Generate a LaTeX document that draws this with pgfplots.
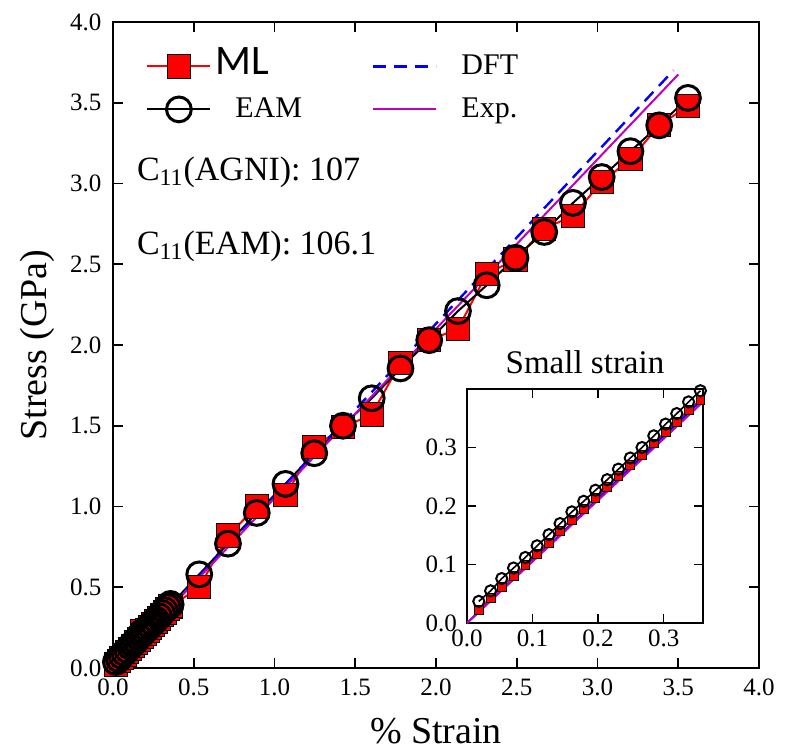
\documentclass[border=0pt]{standalone}
\usepackage{pgfplots}
\pgfplotsset{compat=1.18}
\usepackage{pgfplotstable}
\usepackage{fontspec}
\setmainfont{Liberation Serif}
\newfontfamily\carlito{Carlito}
\definecolor{mlred}{RGB}{255,0,0}
\definecolor{expm}{RGB}{191,0,191}
\definecolor{dftb}{RGB}{0,0,255}

\pgfplotstableread{
x y
0.018 0.022
0.036 0.043
0.053 0.062
0.071 0.080
0.089 0.099
0.107 0.118
0.125 0.137
0.142 0.158
0.160 0.176
0.178 0.195
0.196 0.214
0.214 0.232
0.231 0.251
0.249 0.270
0.267 0.288
0.285 0.307
0.303 0.326
0.320 0.344
0.338 0.364
0.356 0.382
}\mlsmall

\pgfplotstableread{
x y
0.018 0.037
0.036 0.055
0.053 0.076
0.071 0.094
0.089 0.112
0.107 0.132
0.125 0.151
0.142 0.170
0.160 0.190
0.178 0.208
0.196 0.227
0.214 0.245
0.231 0.263
0.249 0.282
0.267 0.300
0.285 0.320
0.303 0.340
0.320 0.358
0.338 0.378
0.356 0.397
}\eamsmall

\pgfplotstableread{
x y
0.178 0.23
0.356 0.38
0.534 0.50
0.712 0.82
0.890 1.00
1.068 1.07
1.246 1.37
1.424 1.49
1.602 1.57
1.780 1.89
1.958 2.03
2.136 2.10
2.314 2.44
2.492 2.53
2.670 2.72
2.848 2.80
3.026 3.01
3.204 3.15
3.382 3.36
3.560 3.48
}\mllarge

\pgfplotstableread{
x y
0.178 0.22
0.356 0.39
0.534 0.58
0.712 0.77
0.890 0.96
1.068 1.14
1.246 1.33
1.424 1.50
1.602 1.67
1.780 1.855
1.958 2.03
2.136 2.21
2.314 2.37
2.492 2.54
2.670 2.70
2.848 2.88
3.026 3.04
3.204 3.20
3.382 3.36
3.560 3.53
}\eamlarge

\begin{document}
\begin{tikzpicture}
\begin{axis}[
  at={(0pt,0pt)}, anchor=south west,
  width=323pt, height=323pt, scale only axis,
  xmin=0, xmax=4, ymin=0, ymax=4,
  xtick={0,0.5,...,4}, ytick={0,0.5,...,4},
  /pgf/number format/assume math mode=true,
  xticklabel style={/pgf/number format/fixed,/pgf/number format/fixed zerofill,/pgf/number format/precision=1, yshift=-2pt},
  yticklabel style={/pgf/number format/fixed,/pgf/number format/fixed zerofill,/pgf/number format/precision=1, xshift=-2.3pt},
  tick label style={font=\fontsize{12.5}{14}\selectfont},
  tick align=inside, major tick length=5pt,
  every tick/.style={black, line width=0.8pt},
  axis line style={line width=1pt},
  xlabel={\% Strain}, ylabel={Stress (GPa)},
  label style={font=\fontsize{19}{22}\selectfont},
  xlabel style={at={(axis description cs:0.5,-0.1161)}, anchor=base},
  ylabel style={at={(axis description cs:-0.1022,0.5)}, anchor=base},
  legend image code/.code={\draw[mark repeat=2,mark phase=2,#1] plot coordinates {(0pt,0pt)(15.75pt,0pt)(31.5pt,0pt)};},
  transpose legend, legend columns=2,
  legend cell align=left,
  legend style={draw=none, fill=none, at={(axis description cs:0,1)}, anchor=north west,
    xshift=16.5pt, yshift=-15pt, inner sep=0pt, row sep=7.5pt,
    font=\fontsize{15}{18}\selectfont,
    nodes={inner sep=0pt, text height=11pt, text depth=3pt},
    /tikz/every odd column/.append style={column sep=12pt},
    /tikz/every even column/.append style={column sep=35pt}},
]
\addplot[mlred, line width=1pt, mark=square*, mark size=5.8pt,
  mark options={fill=mlred, draw=black, line width=0.5pt, solid}] table {\mllarge};
\addlegendentry{\hspace*{-10pt}{\carlito\fontsize{21}{22}\selectfont ML}}
\addplot[mlred, line width=1pt, mark=square*, mark size=5.8pt, forget plot,
  mark options={fill=mlred, draw=black, line width=0.5pt, solid}] table {\mlsmall};
\addplot[black, line width=1pt, mark=o, mark size=6.2pt,
  mark options={line width=1.5pt, solid}] table {\eamlarge};
\addlegendentry{EAM}
\addplot[black, line width=1pt, mark=o, mark size=6.2pt, forget plot,
  mark options={line width=1.5pt, solid}] table {\eamsmall};
\addplot[dftb, line width=1.2pt, dash pattern=on 6.5pt off 4pt] coordinates {(0,0) (3.47,3.70)};
\addlegendentry{DFT}
\addplot[expm, line width=1pt] coordinates {(0,0) (3.50,3.675)};
\addlegendentry{Exp.}
\node[anchor=base west, font=\fontsize{17}{20}\selectfont] at (axis cs:0.105,3.02) {C\textsubscript{11}(AGNI): 107};
\node[anchor=base west, font=\fontsize{17}{20}\selectfont] at (axis cs:0.105,2.56) {C\textsubscript{11}(EAM): 106.1};
\end{axis}

\begin{axis}[
  at={(177pt,22.5pt)}, anchor=south west,
  width=118pt, height=117pt, scale only axis,
  xmin=0, xmax=0.36, ymin=0, ymax=0.4,
  xtick={0,0.1,0.2,0.3}, ytick={0,0.1,0.2,0.3},
  /pgf/number format/assume math mode=true,
  xticklabel style={/pgf/number format/fixed,/pgf/number format/fixed zerofill,/pgf/number format/precision=1},
  yticklabel style={/pgf/number format/fixed,/pgf/number format/fixed zerofill,/pgf/number format/precision=1, xshift=-1.5pt},
  tick label style={font=\fontsize{12.5}{14}\selectfont},
  tick align=inside, major tick length=4.5pt,
  every tick/.style={black, line width=0.8pt},
  axis line style={line width=1.3pt},
  title={Small strain},
  title style={font=\fontsize{16.5}{19}\selectfont, at={(axis description cs:0.5,1)}, anchor=base, yshift=2pt},
]
\addplot[mlred, line width=0.8pt, mark=square*, mark size=2.2pt,
  mark options={fill=mlred, draw=black, line width=0.4pt, solid}] table {\mlsmall};
\addplot[black, line width=0.8pt, mark=o, mark size=2.8pt,
  mark options={line width=1pt, solid}] table {\eamsmall};
\addplot[dftb, line width=1pt] coordinates {(0,0) (0.36,0.383)};
\addplot[expm, line width=1pt] coordinates {(0,0) (0.36,0.378)};
\end{axis}
\pgfresetboundingbox
\path[use as bounding box] (-56.5pt,-41pt) rectangle (338.5pt,334pt);
\end{tikzpicture}
\end{document}
